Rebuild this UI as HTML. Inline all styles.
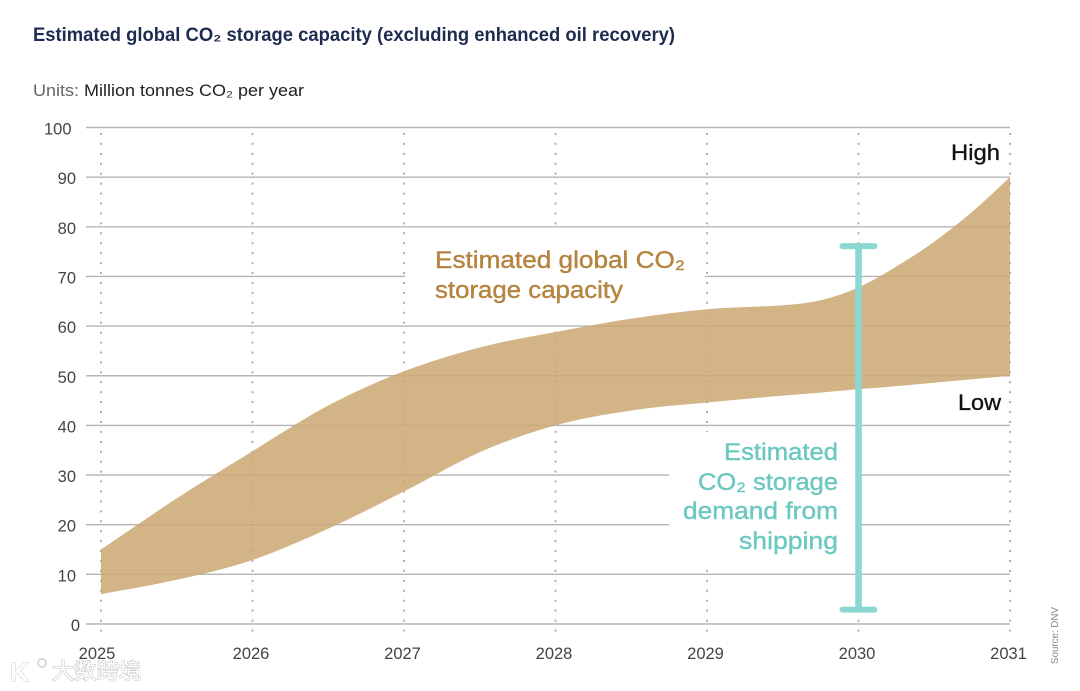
<!DOCTYPE html>
<html lang="en">
<head>
<meta charset="utf-8">
<title>Estimated global CO₂ storage capacity</title>
<style>
html,body{margin:0;padding:0;background:#fff;}
svg{display:block;font-family:"Liberation Sans","Noto Sans CJK SC",sans-serif;}
</style>
</head>
<body>
<svg id="chart" xmlns="http://www.w3.org/2000/svg" width="1080" height="691" viewBox="0 0 1080 691">
  <rect width="1080" height="691" fill="#fff"/>
  <text x="33" y="41" font-size="19" font-weight="700" fill="#1d2b50" textLength="642" lengthAdjust="spacingAndGlyphs">Estimated global CO₂ storage capacity (excluding enhanced oil recovery)</text>
  <text x="33" y="96" font-size="16.5" fill="#666" textLength="46" lengthAdjust="spacingAndGlyphs">Units:</text>
  <text x="84" y="96" font-size="16.5" fill="#222" textLength="220" lengthAdjust="spacingAndGlyphs">Million tonnes CO₂ per year</text>
  <g id="grid"></g>
  <g id="dots"></g>
  <rect x="405" y="228.5" width="300" height="95.5" fill="#fff"/>
  <rect x="669" y="432" width="192" height="134" fill="#fff"/>
  <g id="yticks"></g>
  <g id="xticks"></g>
  <path id="band" fill="#cba873" fill-opacity="0.86"/>
  <g id="demand"></g>
  <text x="435" y="268" font-size="24" fill="#b5843f" stroke="#b5843f" stroke-width="0.4" textLength="250" lengthAdjust="spacingAndGlyphs">Estimated global CO₂</text>
  <text x="435" y="298" font-size="24" fill="#b5843f" stroke="#b5843f" stroke-width="0.4" textLength="188" lengthAdjust="spacingAndGlyphs">storage capacity</text>
  <g font-size="24" fill="#6cc8c0" stroke="#6cc8c0" stroke-width="0.4">
    <text x="724" y="460" textLength="114" lengthAdjust="spacingAndGlyphs">Estimated</text>
    <text x="698" y="490" textLength="140" lengthAdjust="spacingAndGlyphs">CO₂ storage</text>
    <text x="683" y="519" textLength="155" lengthAdjust="spacingAndGlyphs">demand from</text>
    <text x="739" y="549" textLength="99" lengthAdjust="spacingAndGlyphs">shipping</text>
  </g>
  <text x="951" y="160" font-size="22" fill="#111" stroke="#111" stroke-width="0.3" textLength="49" lengthAdjust="spacingAndGlyphs">High</text>
  <text x="958" y="410" font-size="22" fill="#111" stroke="#111" stroke-width="0.3" textLength="43" lengthAdjust="spacingAndGlyphs">Low</text>
  <text transform="translate(1058,664) rotate(-90)" font-size="10.5" fill="#8a8a8a" textLength="57" lengthAdjust="spacingAndGlyphs">Source: DNV</text>
  <g>
    <text x="10" y="681" font-size="26" font-weight="700" fill="#fff" stroke="#cfcfcf" stroke-width="1" paint-order="stroke">K</text>
    <circle cx="33" cy="664" r="4" fill="none" stroke="#fff" stroke-width="1.6"/>
    <circle cx="42" cy="663" r="4" fill="none" stroke="#cfcfcf" stroke-width="1.4"/>
    <text x="52" y="679" font-size="22" fill="#fff" stroke="#c8c8c8" stroke-width="1.2" paint-order="stroke" textLength="89" lengthAdjust="spacingAndGlyphs">大数跨境</text>
  </g>
</svg>
<script>
const yTicks = [0, 10, 20, 30, 40, 50, 60, 70, 80, 90, 100];
const xTicks = [2025, 2026, 2027, 2028, 2029, 2030, 2031];
const years = [2025, 2025.5, 2026, 2026.5, 2027, 2027.5, 2028, 2028.5, 2029, 2029.5, 2029.75, 2030, 2030.25, 2030.5, 2030.75, 2031];
const capacityHigh = [15, 25.3, 34.8, 44, 50.9, 55.7, 58.8, 61.5, 63.4, 64.2, 65.2, 67.8, 72, 77, 83, 90];
const capacityLow = [6, 8.9, 12.9, 19.2, 26.7, 34.6, 40, 43, 44.6, 46, 46.6, 47.3, 47.9, 48.6, 49.3, 50];
const demandYear = 2030;
const demandRange = [2.9, 76.1];

const NS = 'http://www.w3.org/2000/svg';
const xScale = v => 101 + (v - 2025) * 151.5;
const yScale = v => 624 - v * 4.965;

function make(tag, attrs, parent, text) {
  const el = document.createElementNS(NS, tag);
  for (const k in attrs) el.setAttribute(k, attrs[k]);
  if (text !== undefined) el.textContent = text;
  parent.appendChild(el);
  return el;
}

const gridG = document.getElementById('grid');
const dotsG = document.getElementById('dots');
const yG = document.getElementById('yticks');
const xG = document.getElementById('xticks');
const demandG = document.getElementById('demand');

yTicks.forEach(t => {
  const line = make('line', {x1: 86, x2: 1010, y1: yScale(t), y2: yScale(t), stroke: '#b4b4b4', 'stroke-width': 1.4}, gridG);
  
  
  const s = String(t);
  const anchorX = s.length === 3 ? 71.5 : (s.length === 1 ? 80 : 76);
  const label = make('text', {x: anchorX, y: yScale(t) + 7, 'text-anchor': 'end', 'font-size': 16.5, fill: '#444'}, yG, s);
  
  
});

xTicks.forEach(t => {
  const line = make('line', {x1: xScale(t), x2: xScale(t), y1: 133, y2: 634, stroke: '#b0b0b0', 'stroke-width': 2, 'stroke-dasharray': '2 7.93'}, dotsG);
  
  
  const label = make('text', {x: xScale(t) - (t === 2025 ? 4 : 1.5), y: 659, 'text-anchor': 'middle', 'font-size': 16.5, fill: '#444'}, xG, String(t));
  
  
});

function tangents(xs, ys) {
  return xs.map((_, i) => {
    const a = Math.max(i - 1, 0), b = Math.min(i + 1, xs.length - 1);
    return (ys[b] - ys[a]) / (xs[b] - xs[a]);
  });
}
function curve(xs, ys) {
  const m = tangents(xs, ys);
  let d = '';
  for (let i = 0; i < xs.length - 1; i++) {
    const h = xs[i + 1] - xs[i];
    d += ' C' + xScale(xs[i] + h / 3).toFixed(2) + ',' + yScale(ys[i] + m[i] * h / 3).toFixed(2) +
         ' ' + xScale(xs[i + 1] - h / 3).toFixed(2) + ',' + yScale(ys[i + 1] - m[i + 1] * h / 3).toFixed(2) +
         ' ' + xScale(xs[i + 1]).toFixed(2) + ',' + yScale(ys[i + 1]).toFixed(2);
  }
  return d;
}
const n = years.length - 1;
const revYears = years.slice().reverse();
const revLow = capacityLow.slice().reverse();
document.getElementById('band').setAttribute('d',
  'M' + xScale(years[0]) + ',' + yScale(capacityHigh[0]) + curve(years, capacityHigh) +
  ' L' + xScale(years[n]) + ',' + yScale(capacityLow[n]) + curve(revYears, revLow) + ' Z');

const bx = xScale(demandYear);
const stem = make('line', {x1: bx, x2: bx, y1: yScale(demandRange[1]), y2: yScale(demandRange[0]), stroke: '#8bd8d3', 'stroke-width': 6.6}, demandG);


demandRange.forEach((v, i) => {
  const cap = make('rect', {x: bx - 19, y: yScale(v) - 3, width: 38, height: 6, rx: 3, fill: '#8bd8d3'}, demandG);
  
  
});
</script>
</body>
</html>
